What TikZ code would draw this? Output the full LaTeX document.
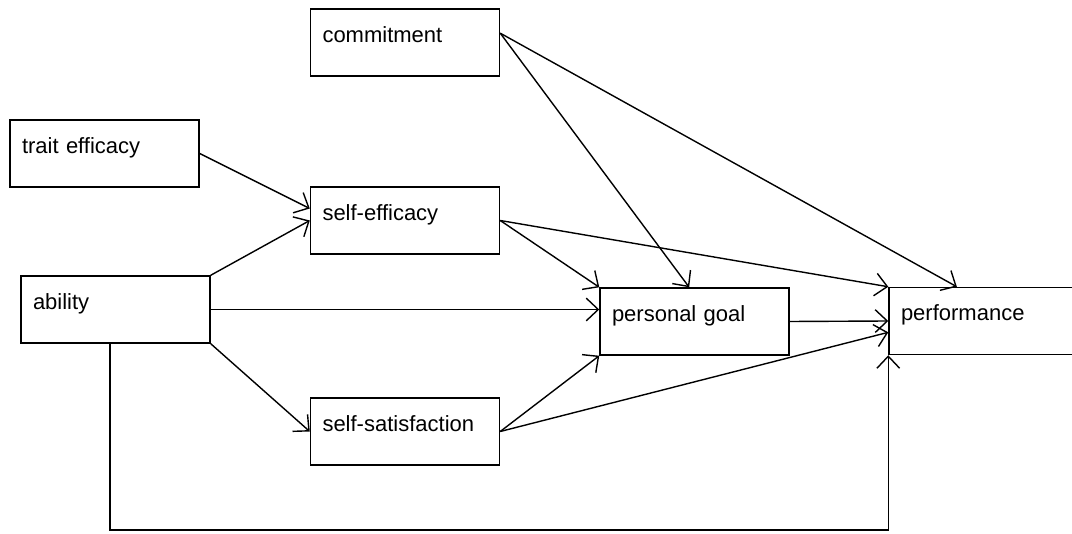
\documentclass[tikz,border=0pt]{standalone}
\usepackage{fontspec}
\setmainfont{Liberation Sans}
\usetikzlibrary{arrows.meta}

\begin{document}
\begin{tikzpicture}[x=0.75pt, y=-0.75pt,
  box/.style={draw, line width=1.1pt, minimum width=141.75pt, minimum height=50.25pt,
    text width=123.75pt, inner xsep=9pt, align=left, text height=12pt, text depth=12pt,
    font=\fontsize{16.5}{20}\selectfont},
  arr/.style={line width=1.05pt, -{Straight Barb[length=9pt, width=17pt, line width=1.05pt]}}]

\useasboundingbox (0,0) rectangle (1072,534);

\node[box] (commitment) at (405,42.5) {commitment};
\node[box] (trait) at (104.5,153.5) {trait efficacy};
\node[box] (selfeff) at (405,220.5) {self-efficacy};
\node[box] (ability) at (115.5,309.5) {ability};
\node[box] (selfsat) at (405,431.5) {self-satisfaction};
\node[box] (goal) at (694.5,321.5) {personal goal};
\node[box] (perf) at (983.5,321) {performance};

\coordinate (bottom) at (500,530);

% into self-efficacy
\draw[arr] (trait.east) -- ([yshift=9pt]selfeff.west);
\draw[arr] (ability.north east) -- (selfeff.west);

% from ability
\draw[arr] (ability.east) -- (ability.east -| goal.west);
\draw[arr] (ability.south east) -- (selfsat.west);
\draw[arr] ([xshift=-4.1pt]ability.south) |- (bottom) -| (perf.south west);

% from commitment
\draw[arr] ([yshift=7pt]commitment.east) -- ([xshift=-4pt]goal.north);
\draw[arr] ([yshift=7pt]commitment.east) -- ([xshift=-20pt]perf.north);

% from self-efficacy and self-satisfaction
\draw[arr] (selfeff.east) -- (goal.north west);
\draw[arr] (selfeff.east) -- (perf.north west);
\draw[arr] (selfsat.east) -- (goal.south west);
\draw[arr] (selfsat.east) -- ([yshift=-8.5pt]perf.west);

\draw[arr] (goal.east) -- (perf.west);

\end{tikzpicture}
\end{document}
